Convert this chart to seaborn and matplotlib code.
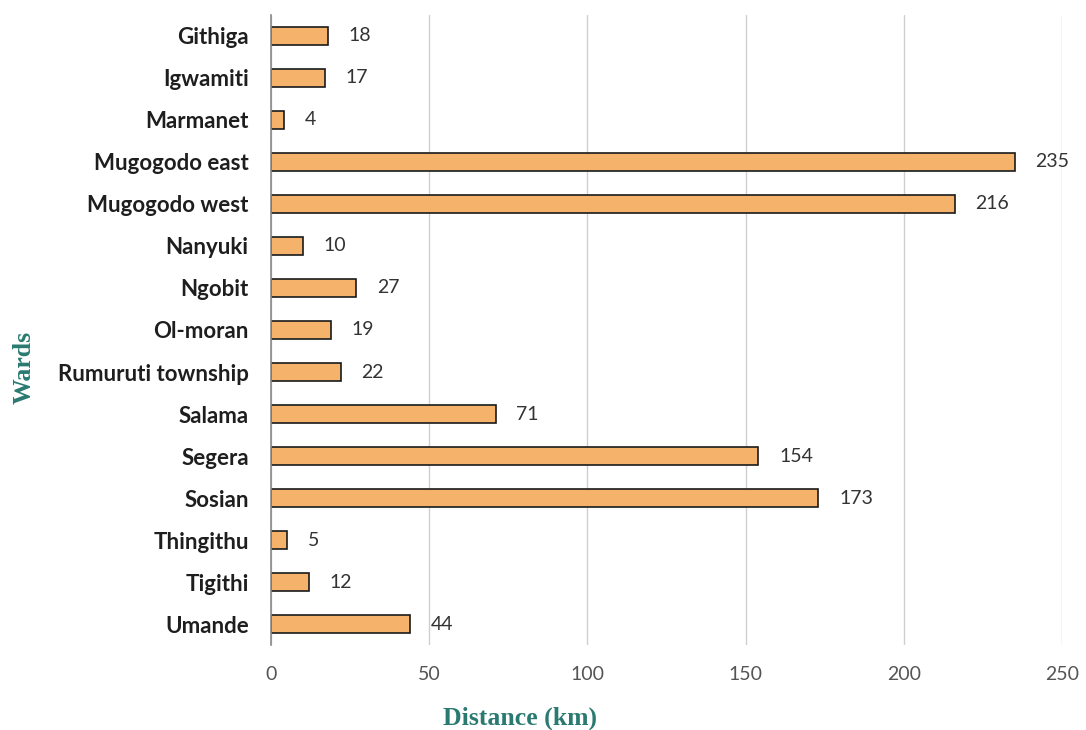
import matplotlib
matplotlib.use("Agg")
import matplotlib.pyplot as plt
import seaborn as sns
import pandas as pd

wards = ["Githiga", "Igwamiti", "Marmanet", "Mugogodo east", "Mugogodo west",
         "Nanyuki", "Ngobit", "Ol-moran", "Rumuruti township", "Salama",
         "Segera", "Sosian", "Thingithu", "Tigithi", "Umande"]
distance_km = [18, 17, 4, 235, 216, 10, 27, 19, 22, 71, 154, 173, 5, 12, 44]
x_ticks = [0, 50, 100, 150, 200, 250]

df = pd.DataFrame({"Ward": wards, "Distance": distance_km})

sns.set_theme(style="white")
plt.rcParams["font.family"] = ["Lato", "DejaVu Sans"]

fig = plt.figure(figsize=(10.86, 7.3), dpi=100)
ax = fig.add_axes([0.2495, 0.1164, 0.7285, 0.8631])

sns.barplot(data=df, x="Distance", y="Ward", orient="h", color="#F5B26B",
            saturation=1, width=0.43, edgecolor="#1a1a1a", linewidth=1.2, ax=ax)

ax.set_xlim(0, 250)
ax.set_ylim(len(wards) - 0.5, -0.5)
ax.set_xticks(x_ticks)
ax.xaxis.grid(True, color="#cfcfcf", linewidth=1)
ax.set_axisbelow(True)
for s in ["top", "right", "bottom"]:
    ax.spines[s].set_visible(False)
ax.spines["left"].set_color("#8a8a8a")
ax.spines["left"].set_linewidth(1.2)

ax.tick_params(axis="y", length=0, pad=16, labelsize=16, labelcolor="#1e1e1e")
for lab in ax.get_yticklabels():
    lab.set_fontweight("bold")
ax.tick_params(axis="x", length=0, pad=15, labelsize=14, labelcolor="#555555")

for container in ax.containers:
    ax.bar_label(container, labels=[str(v) for v in distance_km], padding=15,
                 fontsize=14, color="#333333")

teal = "#2A7A72"
ax.set_xlabel("Distance (km)", family="Liberation Serif", fontweight="bold",
              fontsize=18.5, color=teal)
ax.xaxis.set_label_coords(0.315, -0.098)
ax.set_ylabel("Wards", family="Liberation Serif", fontweight="bold",
              fontsize=18.5, color=teal)
ax.yaxis.set_label_coords(-0.298, 0.44)

fig.savefig("out.png", dpi=100)
